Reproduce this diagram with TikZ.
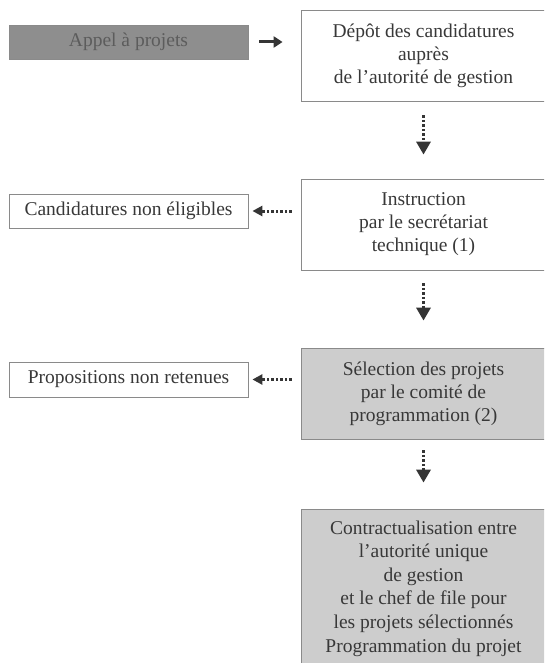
\documentclass[tikz,border=0pt]{standalone}
\usepackage{fontspec}
\setmainfont{Liberation Serif}
\usetikzlibrary{arrows.meta}
\definecolor{txt}{HTML}{383838}
\definecolor{bord}{HTML}{8A8A8A}
\definecolor{darkfill}{HTML}{8E8E8E}
\definecolor{darktxt}{HTML}{5C5C5C}
\definecolor{lightfill}{HTML}{CDCDCD}
\definecolor{arr}{HTML}{353535}
\begin{document}
\begin{tikzpicture}[x=1pt,y=-1pt,
  box/.style={draw=bord,line width=0.8pt,rectangle,inner sep=0pt,align=center,
    text=txt,font=\fontsize{19.5}{23}\selectfont},
  leftbox/.style={box,minimum width=239pt,minimum height=34pt},
  rightbox/.style={box,minimum width=245pt,minimum height=91pt},
  dotarrow/.style={draw=arr,line width=3.5pt,dash pattern=on 2.5pt off 2pt,
    -{Triangle[width=14pt,length=13pt]}},
  leftarrow/.style={draw=arr,line width=3pt,dash pattern=on 2.5pt off 2pt,
    -{Triangle[width=10pt,length=10pt]}},
  solidarrow/.style={draw=arr,line width=3pt,-{Triangle[width=11pt,length=9pt]}}]
\useasboundingbox (0,0) rectangle (544,663);
\clip (0,0) rectangle (544,663);
\node[leftbox,fill=darkfill,text=darktxt] (appel) at (128.5,42) {Appel à projets};
\node[rightbox] (depot) at (423.5,55.5) {Dépôt des candidatures\\auprès\\de l’autorité de gestion};
\node[leftbox] (cand) at (128.5,211) {Candidatures non éligibles};
\node[rightbox] (instr) at (423.5,224.5) {Instruction\\par le secrétariat\\technique (1)};
\node[leftbox,minimum height=35pt] (prop) at (128.5,379.5) {Propositions non retenues};
\node[rightbox,fill=lightfill] (sel) at (423.5,393.5) {Sélection des projets\\par le comité de\\programmation (2)};
\node[box,fill=lightfill,minimum width=245pt,minimum height=159pt,
  font=\fontsize{19.5}{23.6}\selectfont] (contr) at (423.5,588.5)
  {Contractualisation entre\\l’autorité unique\\de gestion\\et le chef de file pour\\les projets sélectionnés\\Programmation du projet};
\draw[solidarrow,shorten <=11pt,shorten >=18pt] (appel.east) -- (appel.east -| depot.west);
\draw[dotarrow,shorten <=14pt,shorten >=24pt] (depot.south) -- (instr.north);
\draw[dotarrow,shorten <=13pt,shorten >=27pt] (instr.south) -- (sel.north);
\draw[dotarrow,shorten <=11pt,shorten >=26pt] (sel.south) -- (contr.north);
\draw[leftarrow,shorten <=9pt,shorten >=4pt] (cand.east -| instr.west) -- (cand.east);
\draw[leftarrow,shorten <=9pt,shorten >=4pt] (prop.east -| sel.west) -- (prop.east);
\end{tikzpicture}
\end{document}
